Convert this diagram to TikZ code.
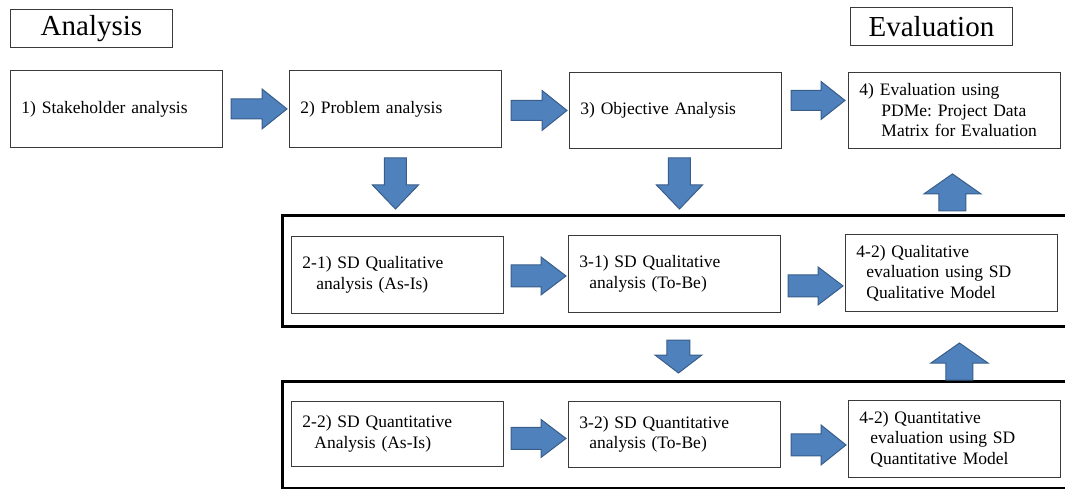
\documentclass[tikz,border=0pt]{standalone}
\usepackage{fontspec}
\setmainfont{Liberation Serif}
\usetikzlibrary{calc}
\definecolor{arrowfill}{HTML}{4F81BD}
\definecolor{arrowline}{HTML}{385D8A}
\definecolor{boxline}{HTML}{3A3A3A}
\frenchspacing

\begin{document}
\begin{tikzpicture}[x=1pt,y=-1pt,
  stepbox/.style={draw=boxline, line width=0.9pt, rectangle, anchor=north west,
    inner xsep=11pt, inner ysep=0pt, text width=190pt, align=left,
    font=\fontsize{17.5}{20.5}\selectfont},
  titlebox/.style={draw=boxline, line width=0.9pt, anchor=north west,
    minimum width=162pt, minimum height=38pt, inner sep=0pt,
    font=\fontsize{29}{32}\selectfont},
  framebox/.style={draw=black, line width=3pt, anchor=north west, inner sep=0pt},
  blockfill/.style={fill=arrowfill, draw=arrowline, line width=1pt, line join=miter},
  % block arrow with its tip at the origin: length, shaft width, head width, head length
  pics/blockarrow/.style n args={4}{code={
    \path[blockfill] (0,0) -- (-#4,-#3/2) -- (-#4,-#2/2) -- (-#1,-#2/2)
      -- (-#1,#2/2) -- (-#4,#2/2) -- (-#4,#3/2) -- cycle;}}
]
\useasboundingbox (0,0) rectangle (1065,489);
\clip (0,0) rectangle (1065,489);

% phase titles
\node[titlebox] (ttlA) at (10,9) {Analysis};
\node[titlebox] (ttlE) at (850,7) {Evaluation};

% top row
\node[stepbox, minimum height=77pt] (s1) at (10,70) {1) Stakeholder analysis};
\node[stepbox, minimum height=77pt] (s2) at (289,70) {2) Problem analysis};
\node[stepbox, minimum height=76pt] (s3) at (569,72) {3) Objective Analysis};
\node[stepbox, minimum height=76pt] (s4) at (848,72)
  {4) Evaluation using\\\hspace*{22pt}PDMe: Project Data\\\hspace*{22pt}Matrix for Evaluation};

% SD frames
\node[framebox, minimum width=794pt, minimum height=111pt] (fr1) at (281,214) {};
\node[framebox, minimum width=794pt, minimum height=107pt] (fr2) at (281,380) {};

% qualitative row
\node[stepbox, minimum height=77pt] (q21) at (291,236)
  {2-1) SD Qualitative\\\hspace*{14pt}analysis (As-Is)};
\node[stepbox, minimum height=77pt] (q31) at (568,235)
  {3-1) SD Qualitative\\\hspace*{10pt}analysis (To-Be)};
\node[stepbox, minimum height=77pt] (q42) at (845,234)
  {4-2) Qualitative\\\hspace*{10pt}evaluation using SD\\\hspace*{10pt}Qualitative Model};

% quantitative row
\node[stepbox, minimum height=65pt] (n22) at (291,401)
  {2-2) SD Quantitative\\\hspace*{12pt}Analysis (As-Is)};
\node[stepbox, minimum height=66pt] (n32) at (568,401)
  {3-2) SD Quantitative\\\hspace*{10pt}analysis (To-Be)};
\node[stepbox, minimum height=77pt] (n42) at (848,400)
  {4-2) Quantitative\\\hspace*{11pt}evaluation using SD\\\hspace*{11pt}Quantitative Model};

% horizontal arrows, top row
\pic at ([xshift=-2pt]s2.west) {blockarrow={56}{20}{40}{25}};
\pic at ([xshift=-2pt]s3.west) {blockarrow={56}{20}{40}{25}};
\pic at ([xshift=-3pt,yshift=10pt]s4.west) {blockarrow={54}{20}{38}{24}};

% downward arrows into the SD frames
\pic[rotate=-90] at ([yshift=5pt]s2.south |- fr1.north) {blockarrow={51}{22}{46}{24}};
\pic[rotate=-90] at ([xshift=4pt,yshift=5pt]s3.south |- fr1.north) {blockarrow={51}{22}{46}{24}};
\pic[rotate=-90] at ([xshift=4pt,yshift=7pt]q31.south |- fr2.north) {blockarrow={33}{23}{47}{18}};

% upward arrows towards the evaluation
\pic[rotate=90] at ([xshift=-2pt,yshift=-25pt]s4.south) {blockarrow={37}{27}{57}{20}};
\pic[rotate=90] at ([xshift=8pt,yshift=-15pt]q42.south |- fr1.south) {blockarrow={37}{27}{57}{20}};

% horizontal arrows, qualitative row
\pic at ([xshift=-2pt,yshift=-2pt]q31.west) {blockarrow={55}{22}{38}{25}};
\pic at ([xshift=-2pt,yshift=-13pt]q42.west) {blockarrow={55}{22}{38}{25}};

% horizontal arrows, quantitative row
\pic at ([xshift=-2pt,yshift=-4pt]n32.west) {blockarrow={55}{22}{38}{25}};
\pic at ([xshift=-2pt,yshift=-6pt]n42.west) {blockarrow={55}{22}{40}{25}};
\end{tikzpicture}
\end{document}
